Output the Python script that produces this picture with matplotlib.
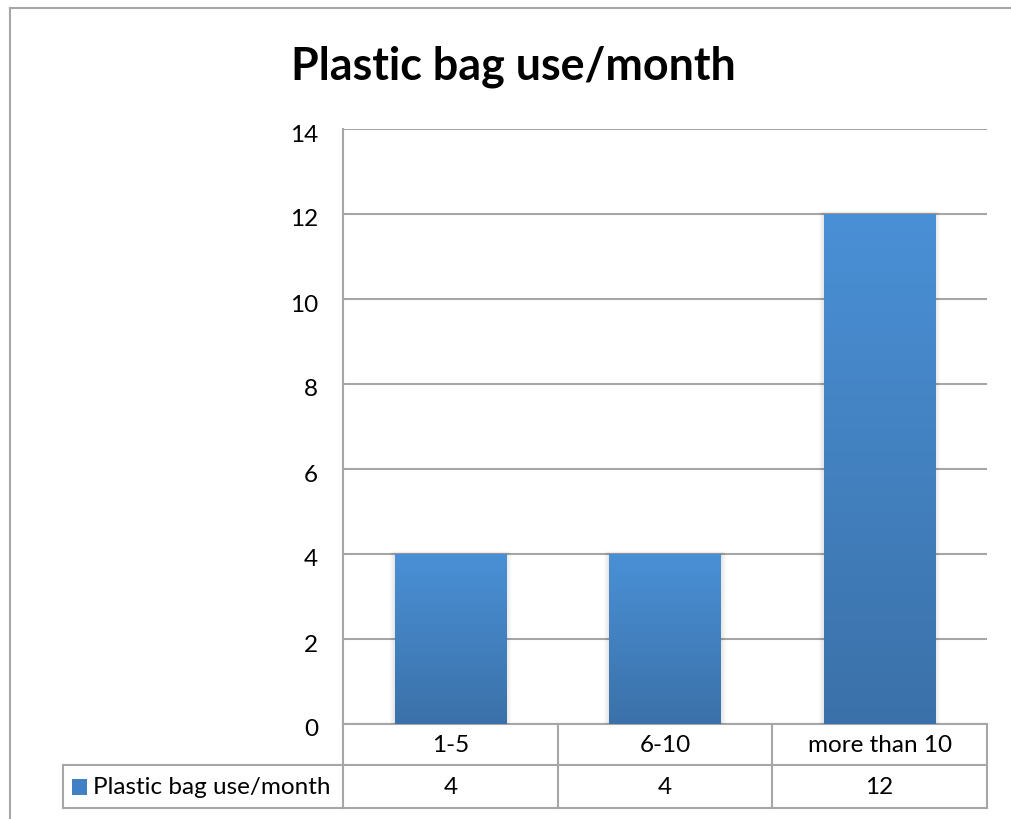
import numpy as np
import matplotlib
matplotlib.use("Agg")
import matplotlib.pyplot as plt
from matplotlib.patches import Rectangle
from matplotlib.lines import Line2D
from matplotlib.transforms import blended_transform_factory, ScaledTranslation
from matplotlib.colors import LinearSegmentedColormap

# Data
title = "Plastic bag use/month"
series_name = "Plastic bag use/month"
categories = ["1-5", "6-10", "more than 10"]
values = [4, 4, 12]
y_ticks = [0, 2, 4, 6, 8, 10, 12, 14]

W, H = 1011, 819
DPI = 100
FONT = "Lato"
FS = 17.5
GRID = "#a6a6a6"
TOP_C = "#4a90d6"
BOT_C = "#3b71a9"

fig = plt.figure(figsize=(W / DPI, H / DPI), dpi=DPI)
fig.patch.set_facecolor("white")


def fx(px):
    return px / W


def fy(py):
    return 1 - py / H


# plot area in pixels
L, R, T, B = 343, 987, 129, 724
ax = fig.add_axes([fx(L), fy(B), fx(R - L), (B - T) / H])
ax.set_xlim(-0.5, len(categories) - 0.5)
ax.set_ylim(0, 14)
ax.set_yticks(y_ticks)
ax.set_yticklabels([str(t) for t in y_ticks], fontsize=FS, family=FONT)
ax.tick_params(axis="y", length=0, pad=18)
# nudge the value labels slightly below their gridlines
shift = ScaledTranslation(0, -4 / DPI, fig.dpi_scale_trans)
for lab in ax.get_yticklabels():
    lab.set_transform(lab.get_transform() + shift)
ax.set_xticks([])
for s in ["top", "right", "bottom"]:
    ax.spines[s].set_visible(False)
ax.spines["left"].set_color(GRID)
ax.spines["left"].set_linewidth(1.5)
ax.yaxis.grid(True, color=GRID, linewidth=1.5)
ax.set_axisbelow(True)

x = np.arange(len(categories))
bar_w = 0.52

# soft shadow around the bars
px_x = (len(categories)) / (R - L)
px_y = 14 / (B - T)
for k in range(1, 6):
    ax.bar(x, np.array(values) + k * px_y * 0.6, width=bar_w + 2 * k * px_x,
           color="black", alpha=0.018, linewidth=0, zorder=2)

bars = ax.bar(x, values, width=bar_w, color="none", linewidth=0, zorder=3)
cmap = LinearSegmentedColormap.from_list("barfill", [BOT_C, TOP_C])
grad = np.linspace(0, 1, 256).reshape(-1, 1)
for b in bars:
    x0, y0 = b.get_x(), b.get_y()
    im = ax.imshow(grad, cmap=cmap, aspect="auto", origin="lower",
                   extent=[x0, x0 + b.get_width(), y0, y0 + b.get_height()],
                   zorder=3, interpolation="bicubic")
    im.set_clip_path(b)
ax.set_xlim(-0.5, len(categories) - 0.5)
ax.set_ylim(0, 14)

# data table below the plot
row1_top, row1_bot, row2_bot = 724, 765, 808
tbl_left = 63
bt = blended_transform_factory(ax.transData, fig.transFigure)
edges = np.arange(len(categories) + 1) - 0.5
lw = 1.5

# horizontal lines spanning category columns
for py in [row1_top, row1_bot, row2_bot]:
    ax.add_line(Line2D([edges[0], edges[-1]], [fy(py), fy(py)], transform=bt,
                       color=GRID, lw=lw, clip_on=False, zorder=1))
# extend lower rows across the legend column
for py in [row1_bot, row2_bot]:
    fig.add_artist(Line2D([fx(tbl_left), fx(L)], [fy(py), fy(py)],
                          color=GRID, lw=lw))
fig.add_artist(Line2D([fx(tbl_left), fx(tbl_left)], [fy(row1_bot), fy(row2_bot)],
                      color=GRID, lw=lw))
for e in edges:
    ax.add_line(Line2D([e, e], [fy(row1_top), fy(row2_bot)], transform=bt,
                       color=GRID, lw=lw, clip_on=False, zorder=1))

for xi, cat, v in zip(x, categories, values):
    ax.text(xi, fy((row1_top + row1_bot) / 2 + 1.5), cat, transform=bt,
            ha="center", va="center", fontsize=FS, family=FONT, clip_on=False)
    ax.text(xi, fy((row1_bot + row2_bot) / 2 + 1.5), str(v), transform=bt,
            ha="center", va="center", fontsize=FS, family=FONT, clip_on=False)

# legend key and series name
key = Rectangle((fx(72), fy(795)), fx(15), 16 / H, transform=fig.transFigure,
                facecolor="#4180c4", edgecolor="none")
fig.add_artist(key)
fig.text(fx(93), fy((row1_bot + row2_bot) / 2 + 1.5), series_name, ha="left",
         va="center", fontsize=FS, family=FONT)

# title
fig.text(fx(513), fy(67), title, ha="center", va="center", fontsize=32.3,
         fontweight="bold", family=FONT)

# chart area border
fig.add_artist(Line2D([fx(10), 1], [fy(8), fy(8)], color=GRID, lw=1.5))
fig.add_artist(Line2D([fx(10), fx(10)], [fy(8), 0], color=GRID, lw=1.5))

fig.savefig("out.png", dpi=DPI)
